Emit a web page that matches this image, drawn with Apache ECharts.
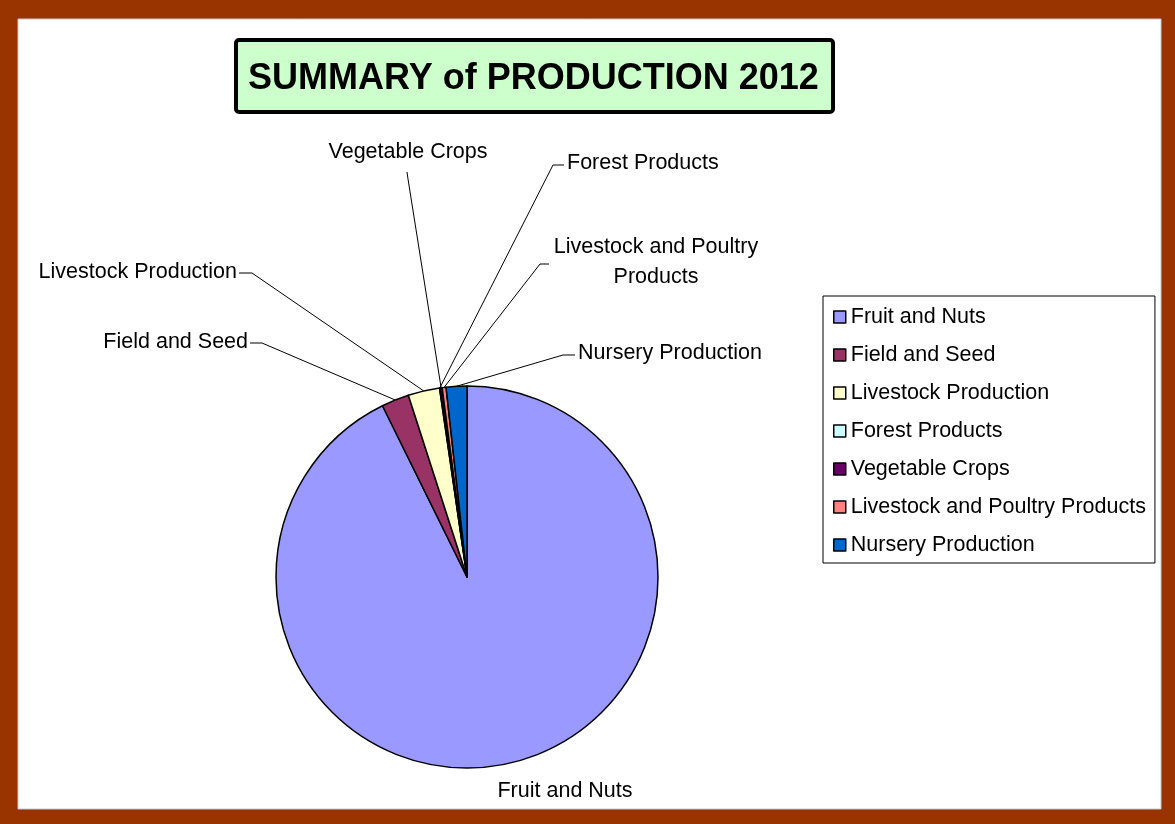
<!DOCTYPE html>
<html>
<head>
<meta charset="utf-8">
<script src="https://cdn.jsdelivr.net/npm/echarts@6/dist/echarts.min.js"></script>
<style>
html,body{margin:0;padding:0;background:#fff;}
#chart{width:1175px;height:824px;}
</style>
</head>
<body>
<div id="chart"></div>
<script>
// ---- data ----
var categories = ['Fruit and Nuts', 'Field and Seed', 'Livestock Production', 'Forest Products', 'Vegetable Crops', 'Livestock and Poultry Products', 'Nursery Production'];
var shares = [92.75, 2.33, 2.67, 0.05, 0.17, 0.33, 1.75];
var sliceColors = ['#9999FF', '#993366', '#FFFFCC', '#CCFFFF', '#660066', '#FF8080', '#0066CC'];
var labelTexts = ['Fruit and Nuts', 'Field and Seed', 'Livestock Production', 'Forest Products', 'Vegetable Crops', 'Livestock and Poultry\nProducts', 'Nursery Production'];
var titleText = 'SUMMARY of PRODUCTION 2012';

// ---- label layout (positions of the callout texts, not data) ----
var labelSpots = [
  {x: 565, y: 791, align: 'center', line: false},
  {x: 248, y: 342, align: 'right', end: [250, 343], elbow: [262, 343]},
  {x: 237, y: 272, align: 'right', end: [239, 273], elbow: [252, 273]},
  {x: 567, y: 163, align: 'left', end: [564, 165], elbow: [553, 165]},
  {x: 408, y: 152, align: 'center', end: [407, 172], elbow: [408, 179]},
  {x: 656, y: 262, align: 'center', end: [549, 264], elbow: [540, 264]},
  {x: 578, y: 353, align: 'left', end: [575, 355], elbow: [563, 355]}
];

var FONT = '"Liberation Sans", Arial, sans-serif';
var chart = echarts.init(document.getElementById('chart'), null, {renderer: 'canvas'});

var pieData = categories.map(function (c, i) {
  var item = {name: c, value: shares[i], itemStyle: {color: sliceColors[i]}};
  if (labelSpots[i].line === false) item.labelLine = {show: false};
  return item;
});

chart.setOption({
  animation: false,
  backgroundColor: '#993300',
  graphic: [{
    type: 'rect', z: -10, silent: true,
    shape: {x: 18, y: 19, width: 1143, height: 790},
    style: {fill: '#ffffff', stroke: '#c8c8c8', lineWidth: 1}
  }],
  title: {
    text: titleText,
    left: 236, top: 40,
    padding: [21, 15, 15, 12],
    backgroundColor: '#CCFFCC',
    borderColor: '#000000',
    borderWidth: 4,
    borderRadius: 3,
    textStyle: {fontFamily: FONT, fontSize: 36, fontWeight: 'bold', color: '#000', lineHeight: 36}
  },
  legend: {
    orient: 'vertical',
    left: 823, top: 296,
    padding: [10, 9, 7, 10],
    itemGap: 16,
    itemWidth: 12, itemHeight: 12,
    icon: 'rect',
    backgroundColor: '#ffffff',
    borderColor: '#000000',
    borderWidth: 1,
    itemStyle: {borderColor: '#000', borderWidth: 1.5},
    textStyle: {fontFamily: FONT, fontSize: 21.5, color: '#000', lineHeight: 21},
    data: categories
  },
  series: [{
    type: 'pie',
    center: [467, 577],
    radius: 191,
    startAngle: 90,
    clockwise: true,
    avoidLabelOverlap: false,
    itemStyle: {borderColor: '#000', borderWidth: 1.5},
    emphasis: {disabled: true},
    label: {
      show: true,
      fontFamily: FONT, fontSize: 21.5, color: '#000', lineHeight: 30,
      formatter: function (p) { return labelTexts[p.dataIndex]; }
    },
    labelLine: {show: true, length: 20, length2: 10, lineStyle: {color: '#000', width: 1}},
    labelLayout: function (params) {
      var s = labelSpots[params.dataIndex];
      var out = {x: s.x, y: s.y, align: s.align, verticalAlign: 'middle'};
      if (s.line !== false && params.labelLinePoints) {
        out.labelLinePoints = [params.labelLinePoints[0], s.elbow, s.end];
      }
      return out;
    },
    data: pieData
  }]
});
</script>
</body>
</html>
